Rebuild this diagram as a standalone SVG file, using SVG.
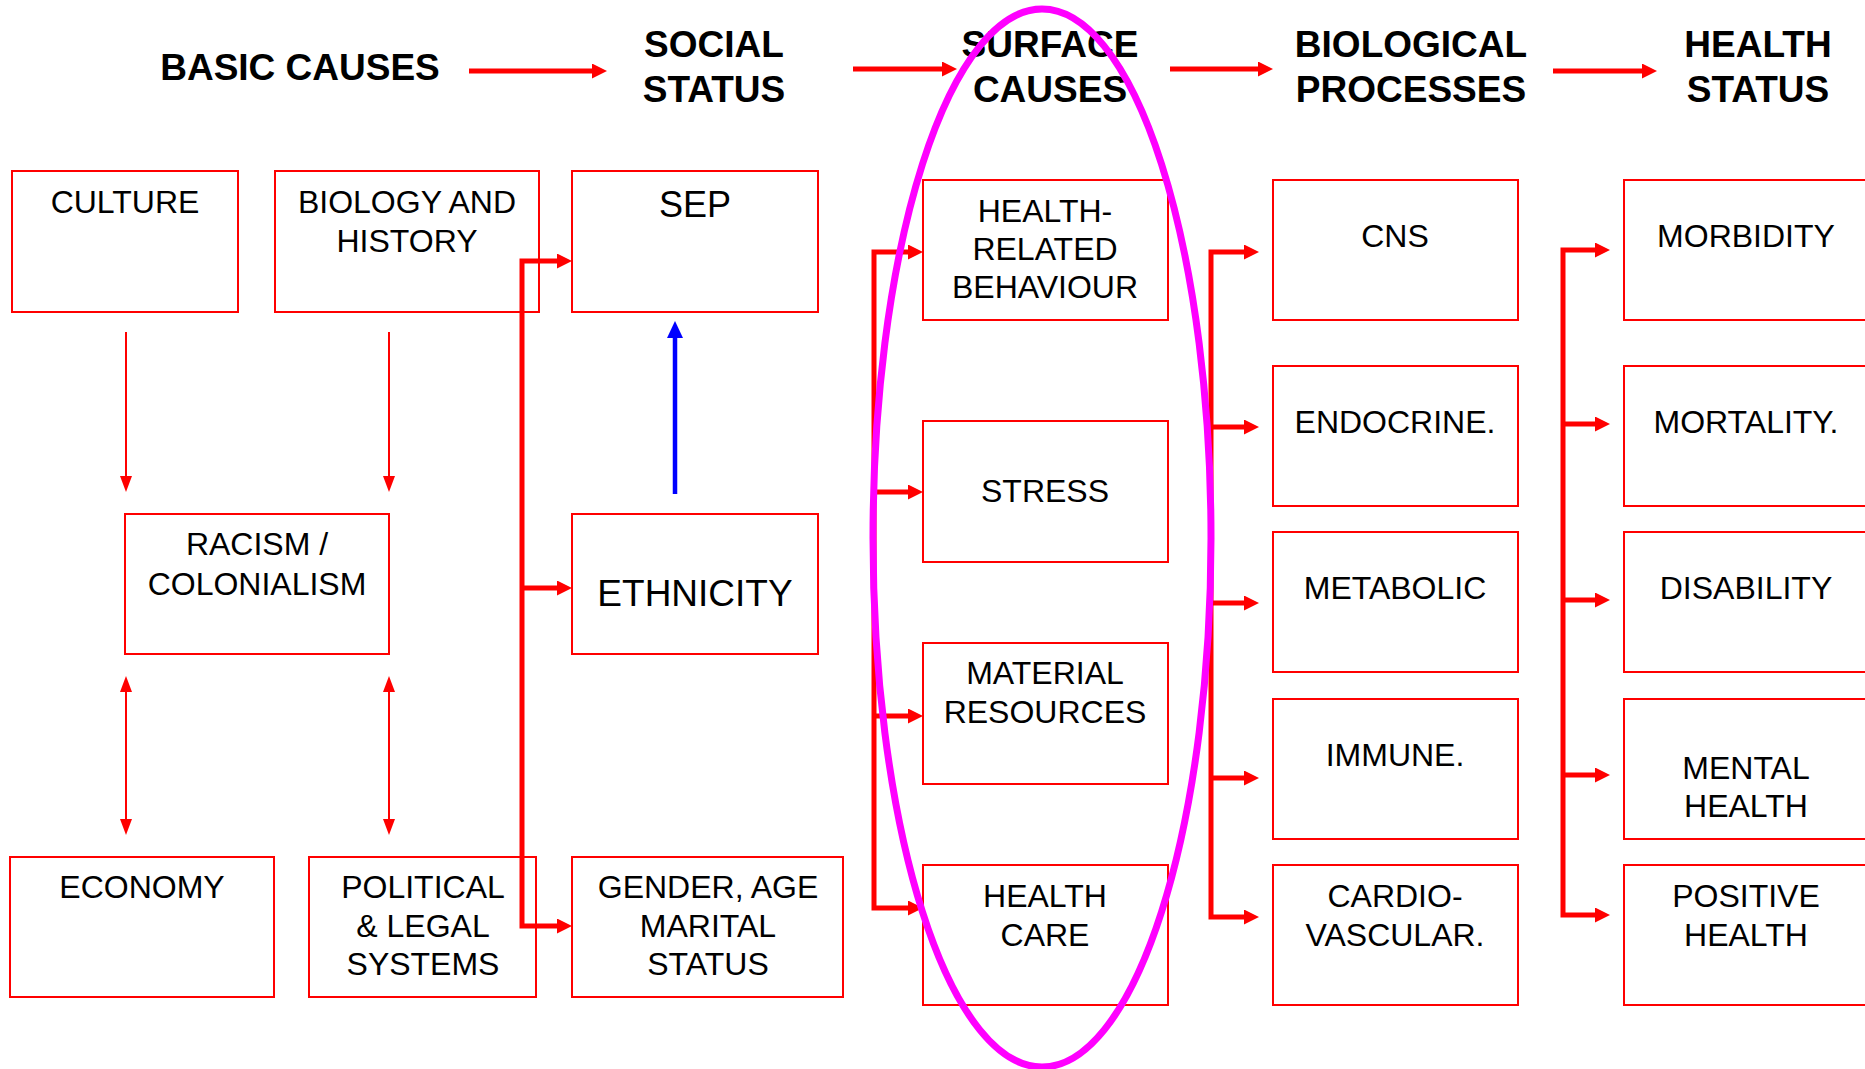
<svg xmlns="http://www.w3.org/2000/svg" width="1865" height="1069" viewBox="0 0 1865 1069">
<style>
.box rect{fill:#fff;stroke:#ff0000;stroke-width:2}
.box text,.hdr{font-family:"Liberation Sans",Arial,sans-serif;fill:#000;text-anchor:middle}
.box text{font-size:32px}
.hdr{font-size:37px;font-weight:bold}
.thin{stroke:#ff0000;stroke-width:2;fill:none}
.thick{stroke:#ff0000;stroke-width:5;fill:none}
.blue{stroke:#0000ff;stroke-width:4.5;fill:none}
</style>
<defs>
<marker id="ht" markerUnits="userSpaceOnUse" markerWidth="16" markerHeight="12" refX="4" refY="6" orient="auto-start-reverse"><path d="M0,0 L16,6 L0,12 z" fill="#ff0000"/></marker>
<marker id="hk" markerUnits="userSpaceOnUse" markerWidth="15" markerHeight="15" refX="3" refY="7.5" orient="auto-start-reverse"><path d="M0,0 L15,7.5 L0,15 z" fill="#ff0000"/></marker>
<marker id="hb" markerUnits="userSpaceOnUse" markerWidth="17" markerHeight="16" refX="4" refY="8" orient="auto"><path d="M0,0 L17,8 L0,16 z" fill="#0000ff"/></marker>
</defs>
<rect width="1865" height="1069" fill="#fff"/>

<g id="headers">
<text class="hdr" x="300" y="80">BASIC CAUSES</text>
<text class="hdr" x="714" y="57">SOCIAL</text>
<text class="hdr" x="714" y="102">STATUS</text>
<text class="hdr" x="1050" y="57">SURFACE</text>
<text class="hdr" x="1050" y="102">CAUSES</text>
<text class="hdr" x="1411" y="57">BIOLOGICAL</text>
<text class="hdr" x="1411" y="102">PROCESSES</text>
<text class="hdr" x="1758" y="57">HEALTH</text>
<text class="hdr" x="1758" y="102">STATUS</text>
</g>

<g id="n-culture" class="box"><rect x="12" y="171" width="226" height="141"/><text x="125" y="213">CULTURE</text></g>
<g id="n-biology" class="box"><rect x="275" y="171" width="264" height="141"/><text x="407" y="213">BIOLOGY AND</text><text x="407" y="252">HISTORY</text></g>
<g id="n-sep" class="box"><rect x="572" y="171" width="246" height="141"/><text x="695" y="217" style="font-size:36px">SEP</text></g>
<g id="n-racism" class="box"><rect x="125" y="514" width="264" height="140"/><text x="257" y="555">RACISM /</text><text x="257" y="595">COLONIALISM</text></g>
<g id="n-ethnicity" class="box"><rect x="572" y="514" width="246" height="140"/><text x="695" y="606" style="font-size:37px">ETHNICITY</text></g>
<g id="n-economy" class="box"><rect x="10" y="857" width="264" height="140"/><text x="142" y="898">ECONOMY</text></g>
<g id="n-political" class="box"><rect x="309" y="857" width="227" height="140"/><text x="423" y="898">POLITICAL</text><text x="423" y="937">&amp; LEGAL</text><text x="423" y="975">SYSTEMS</text></g>
<g id="n-gender" class="box"><rect x="572" y="857" width="271" height="140"/><text x="708" y="898">GENDER, AGE</text><text x="708" y="937">MARITAL</text><text x="708" y="975">STATUS</text></g>

<g id="n-hrb" class="box"><rect x="923" y="180" width="245" height="140"/><text x="1045" y="222">HEALTH-</text><text x="1045" y="260">RELATED</text><text x="1045" y="298">BEHAVIOUR</text></g>
<g id="n-stress" class="box"><rect x="923" y="421" width="245" height="141"/><text x="1045" y="502">STRESS</text></g>
<g id="n-material" class="box"><rect x="923" y="643" width="245" height="141"/><text x="1045" y="684">MATERIAL</text><text x="1045" y="723">RESOURCES</text></g>
<g id="n-healthcare" class="box"><rect x="923" y="865" width="245" height="140"/><text x="1045" y="907">HEALTH</text><text x="1045" y="946">CARE</text></g>

<g id="n-cns" class="box"><rect x="1273" y="180" width="245" height="140"/><text x="1395" y="247">CNS</text></g>
<g id="n-endocrine" class="box"><rect x="1273" y="366" width="245" height="140"/><text x="1395" y="433">ENDOCRINE.</text></g>
<g id="n-metabolic" class="box"><rect x="1273" y="532" width="245" height="140"/><text x="1395" y="599">METABOLIC</text></g>
<g id="n-immune" class="box"><rect x="1273" y="699" width="245" height="140"/><text x="1395" y="766">IMMUNE.</text></g>
<g id="n-cardio" class="box"><rect x="1273" y="865" width="245" height="140"/><text x="1395" y="907">CARDIO-</text><text x="1395" y="946">VASCULAR.</text></g>

<g id="n-morbidity" class="box"><rect x="1624" y="180" width="246" height="140"/><text x="1746" y="247">MORBIDITY</text></g>
<g id="n-mortality" class="box"><rect x="1624" y="366" width="246" height="140"/><text x="1746" y="433">MORTALITY.</text></g>
<g id="n-disability" class="box"><rect x="1624" y="532" width="246" height="140"/><text x="1746" y="599">DISABILITY</text></g>
<g id="n-mental" class="box"><rect x="1624" y="699" width="246" height="140"/><text x="1746" y="779">MENTAL</text><text x="1746" y="817">HEALTH</text></g>
<g id="n-positive" class="box"><rect x="1624" y="865" width="246" height="140"/><text x="1746" y="907">POSITIVE</text><text x="1746" y="946">HEALTH</text></g>

<g id="connectors">
<path class="thick" d="M469,71 H595" marker-end="url(#hk)"/>
<path class="thick" d="M853,69 H945" marker-end="url(#hk)"/>
<path class="thick" d="M1170,69 H1261" marker-end="url(#hk)"/>
<path class="thick" d="M1553,71 H1645" marker-end="url(#hk)"/>

<path class="thin" d="M126,332 V480" marker-end="url(#ht)"/>
<path class="thin" d="M389,332 V480" marker-end="url(#ht)"/>
<path class="thin" d="M126,688 V823" marker-start="url(#ht)" marker-end="url(#ht)"/>
<path class="thin" d="M389,688 V823" marker-start="url(#ht)" marker-end="url(#ht)"/>

<path class="blue" d="M675,494 V334" marker-end="url(#hb)"/>

<path class="thick" d="M560,261 H522 V926 H560" marker-start="url(#hk)" marker-end="url(#hk)"/>
<path class="thick" d="M522,588 H560" marker-end="url(#hk)"/>

<path class="thick" d="M911,252 H874 V908 H911" marker-start="url(#hk)" marker-end="url(#hk)"/>
<path class="thick" d="M874,492 H911" marker-end="url(#hk)"/>
<path class="thick" d="M874,716 H911" marker-end="url(#hk)"/>

<path class="thick" d="M1247,252 H1211 V917 H1247" marker-start="url(#hk)" marker-end="url(#hk)"/>
<path class="thick" d="M1211,427 H1247" marker-end="url(#hk)"/>
<path class="thick" d="M1211,603 H1247" marker-end="url(#hk)"/>
<path class="thick" d="M1211,778 H1247" marker-end="url(#hk)"/>

<path class="thick" d="M1598,250 H1563 V915 H1598" marker-start="url(#hk)" marker-end="url(#hk)"/>
<path class="thick" d="M1563,424 H1598" marker-end="url(#hk)"/>
<path class="thick" d="M1563,600 H1598" marker-end="url(#hk)"/>
<path class="thick" d="M1563,775 H1598" marker-end="url(#hk)"/>
</g>

<ellipse id="highlight" cx="1042" cy="538" rx="169" ry="529" fill="none" stroke="#ff00ff" stroke-width="7"/>
</svg>
